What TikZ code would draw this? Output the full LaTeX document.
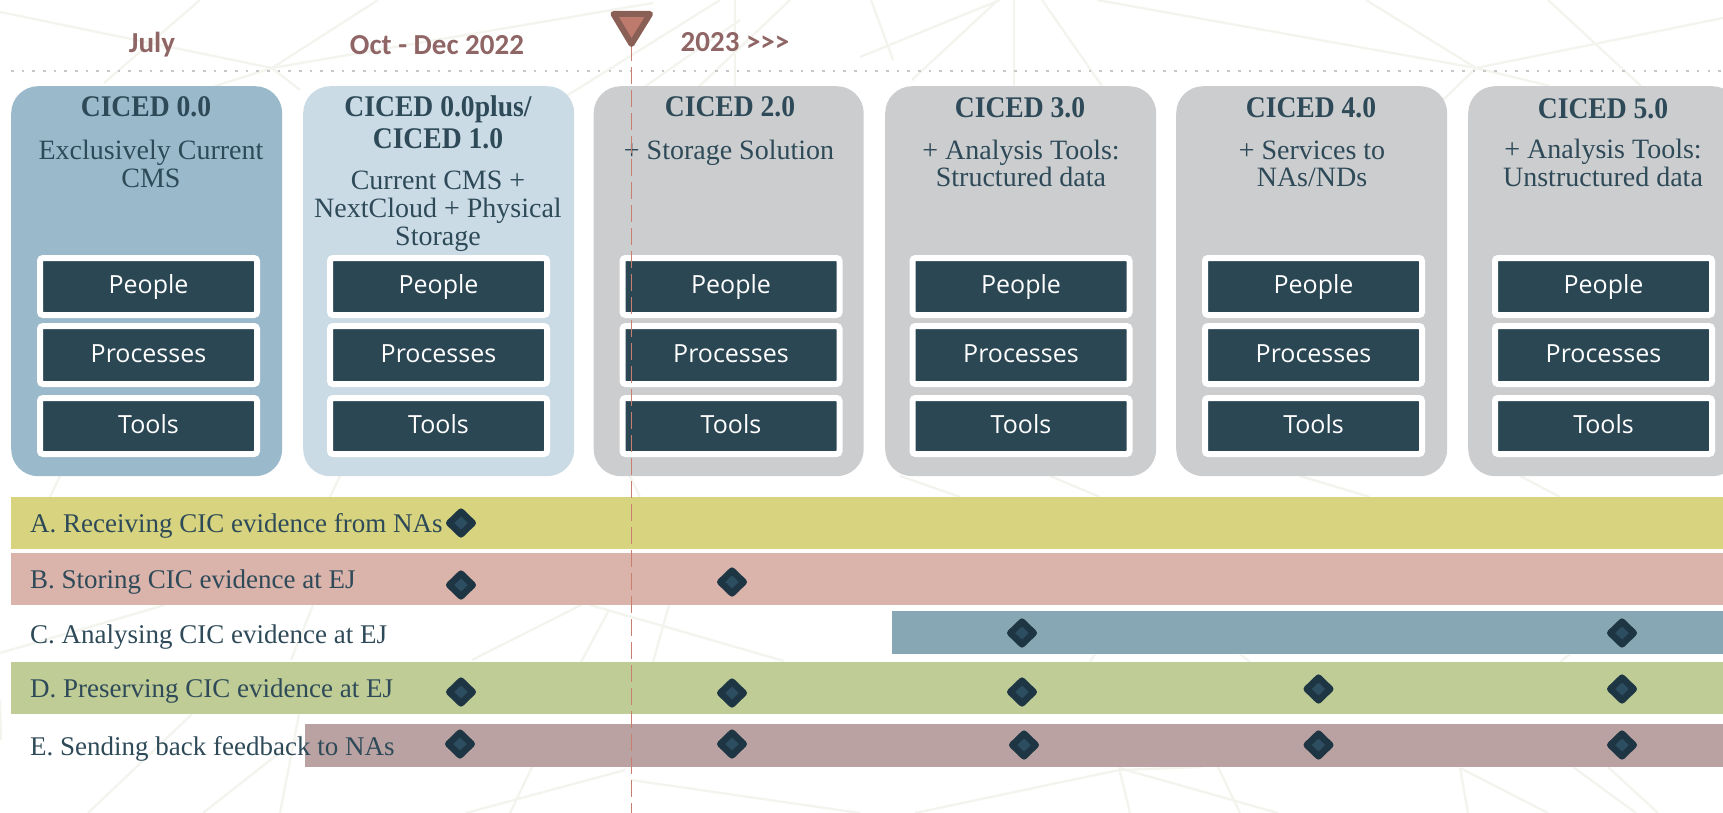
\documentclass[tikz,border=0pt]{standalone}
\usepackage{fontspec}
\usetikzlibrary{shapes.geometric}
\setmainfont{Liberation Serif}
\newfontfamily\boxfont{Open Sans}
\newfontfamily\datefont{Carlito}[BoldFont={Carlito Bold}]
\newfontfamily\titlefont{Liberation Serif}[FakeStretch=0.92]
\definecolor{cardA}{HTML}{9ABACC}
\definecolor{cardB}{HTML}{CADBE5}
\definecolor{cardC}{HTML}{CCCDCF}
\definecolor{darkbox}{HTML}{2B4754}
\definecolor{inktext}{HTML}{2E4A58}
\definecolor{datetext}{HTML}{8F6565}
\definecolor{barA}{HTML}{D7D37E}
\definecolor{barB}{HTML}{DAB3AB}
\definecolor{barC}{HTML}{87A7B5}
\definecolor{barD}{HTML}{BFCC96}
\definecolor{barE}{HTML}{BAA2A2}
\definecolor{kiteout}{HTML}{1E3644}
\definecolor{kitein}{HTML}{2D4D60}
\definecolor{webline}{HTML}{F4F4EF}
\definecolor{nowline}{HTML}{C97F6F}
\definecolor{nowedge}{HTML}{8A5F55}
\definecolor{nowfill}{HTML}{BE7A6C}
\tikzset{
  x=1pt,y=-1pt,
  web/.style={draw=webline,line width=2.4pt},
  card/.style={rounded corners=27pt,minimum height=390pt,anchor=north west,inner sep=0pt},
  dimbox/.style={draw=white,fill=darkbox,line width=6pt,rounded corners=3pt,minimum width=217pt,
    inner sep=0pt,text=white,text height=21pt,text depth=7pt,font=\boxfont\fontsize{25}{25}\selectfont},
  title/.style={text=inktext,anchor=base,align=center,inner sep=0pt,font=\titlefont\bfseries\fontsize{30}{32}\selectfont},
  desc/.style={text=inktext,anchor=base,align=center,inner sep=0pt,font=\fontsize{28}{27.8}\selectfont},
  bar/.style={anchor=north west,inner sep=0pt},
  barlabel/.style={text=inktext,anchor=base west,inner sep=0pt,font=\fontsize{27}{27}\selectfont},
  kite/.style={diamond,aspect=1,inner sep=0pt,outer sep=0pt,minimum width=23.4pt,minimum height=22.6pt,fill=kitein,draw=kiteout,line width=6.6pt,line join=round},
  datelabel/.style={text=datetext,inner sep=0pt,font=\datefont\bfseries\fontsize{29}{29}\selectfont},
}
\begin{document}
\begin{tikzpicture}
\useasboundingbox (0,0) rectangle (1723,813);
\clip (0,0) rectangle (1723,813);
% background web
\foreach \a/\b/\c/\d in {
 0/12/272/68, 272/68/653/3, 200/0/104/83, 378/0/272/68, 272/68/300/90, 272/68/215/86,
 735/0/735/86, 1014/0/1014/86, 1042/0/1102/86, 998/0/912/80, 860/57/1000/0, 871/0/893/60,
 1097/0/1476/68, 1366/0/1476/68, 1548/0/1641/86, 1723/18/1476/68, 1476/68/1443/100, 1476/68/1550/86,
 640/90/740/20, 560/100/720/0, 690/95/790/0,
 915/813/1119/770, 1119/770/1201/767, 1119/768/1278/813, 1119/768/1130/813, 1218/767/1240/813,
 1460/768/1548/813, 1460/768/1468/813, 1573/767/1636/813, 1608/767/1658/813,
 466/813/625/770, 631/780/860/813, 192/714/88/813, 299/714/280/813, 203/813/302/735, 532/767/510/813,
 0/653/165/605, 472/660/581/605, 590/605/784/661, 609/610/581/662, 669/605/653/662, 313/605/291/660,
 60/476/50/497, 340/476/330/497, 630/476/640/497, 900/476/960/497, 1050/476/1100/497, 1300/476/1370/497, 1520/476/1560/497,
 1/740/0/700, 1570/654/1560/662, 1240/654/1250/662, 1095/654/1090/662}
 {\draw[web] (\a,\b) -- (\c,\d);}
% date labels and dotted rule
\coordinate (dotL) at (11,71);
\coordinate (dotR) at (1723,71);
\draw[draw=black!22,line width=2.6pt,dash pattern=on 2.6pt off 8.07pt] (dotL) -- (dotR);
\node[datelabel] (july) at (152,45) {July};
\node[datelabel] (oct) at (437,45) {Oct - Dec 2022};
\node[datelabel] (y2023) at (735,42) {2023 >{}>{}>};
% cards
\node[card,fill=cardA,minimum width=271pt] (c0) at (11,86) {};
\node[card,fill=cardB,minimum width=271pt] (c1) at (303,86) {};
\node[card,fill=cardC,minimum width=270pt] (c2) at (593.5,86) {};
\node[card,fill=cardC,minimum width=271pt] (c3) at (885,86) {};
\node[card,fill=cardC,minimum width=271pt] (c4) at (1176,86) {};
\node[card,fill=cardC,minimum width=271pt] (c5) at (1468,86) {};
% titles (anchor=base is the last line)
\node[title] (t0) at (146,117) {CICED 0.0};
\node[title] (t1) at (438,149) {CICED 0.0plus/\\CICED 1.0};
\node[title] (t2) at (730,117) {CICED 2.0};
\node[title] (t3) at (1020,118) {CICED 3.0};
\node[title] (t4) at (1311,118) {CICED 4.0};
\node[title] (t5) at (1603,119) {CICED 5.0};
% descriptions (anchor=base is the last line)
\node[desc] (d0) at (151,187.5) {Exclusively Current\\CMS};
\node[desc] (d1) at (438,245) {Current CMS +\\NextCloud + Physical\\Storage};
\node[desc] (d2) at (729,160) {+ Storage Solution};
\node[desc] (d3) at (1021,187) {+ Analysis Tools:\\Structured data};
\node[desc] (d4) at (1312,187) {+ Services to\\NAs/NDs};
\node[desc] (d5) at (1603,186) {+ Analysis Tools:\\Unstructured data};
% people / processes / tools
\foreach \n/\x in {0/148.5,1/438.5,2/731,3/1021,4/1313.5,5/1603.5}{
  \node[dimbox,minimum height=57pt] (pe\n) at (\x,286.5) {People};
  \node[dimbox,minimum height=58pt] (pr\n) at (\x,355) {Processes};
  \node[dimbox,minimum height=56pt] (to\n) at (\x,426) {Tools};
}
% bars
\node[bar,fill=barA,minimum width=1712pt,minimum height=52pt] (bA) at (11,497) {};
\node[bar,fill=barB,minimum width=1712pt,minimum height=52pt] (bB) at (11,553) {};
\node[bar,fill=barC,minimum width=831pt,minimum height=43pt] (bC) at (892,611) {};
\node[bar,fill=barD,minimum width=1712pt,minimum height=52pt] (bD) at (11,662) {};
\node[bar,fill=barE,minimum width=1418pt,minimum height=43pt] (bE) at (305,724) {};
\node[barlabel] (lA) at (30,532) {A. Receiving CIC evidence from NAs};
\node[barlabel] (lB) at (30,588) {B. Storing CIC evidence at EJ};
\node[barlabel] (lC) at (30,643) {C. Analysing CIC evidence at EJ};
\node[barlabel] (lD) at (30,697) {D. Preserving CIC evidence at EJ};
\node[barlabel] (lE) at (30,755) {E. Sending back feedback to NAs};
% milestones
\foreach \n/\x/\y in {a1/461/523, b1/461/585, b2/732/582, c1/1022/633, c2/1622/633,
  d1/461/692, d2/732/693, d3/1022/692, d4/1318.5/689, d5/1622/689,
  e1/460/744, e2/732/744, e3/1024/745, e4/1318.5/745, e5/1622/745}
  {\node[kite] (k\n) at (\x,\y) {};}
% today marker
\coordinate (tip) at (631.5,44);
\coordinate (nowend) at (631.5,813);
\draw[nowline,line width=1.8pt,dash pattern=on 17pt off 6pt] (tip) -- (nowend);
\draw[draw=nowedge,fill=nowfill,line width=6pt,line join=round] (613.5,14) -- (650,14) -- (tip) -- cycle;
\end{tikzpicture}
\end{document}
